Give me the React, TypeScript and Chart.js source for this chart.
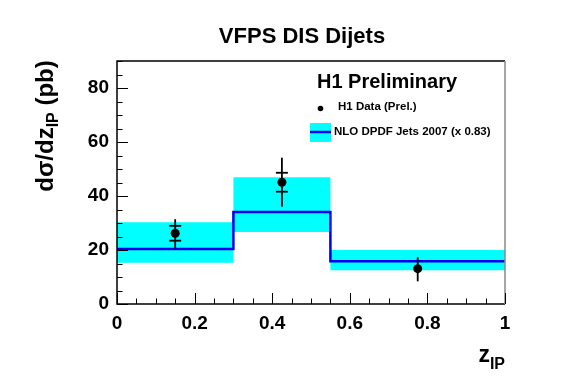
import React, { useEffect, useRef } from "react";
import { Chart, registerables } from "chart.js";
Chart.register(...registerables);

// ---- data ----
const binEdges = [0, 0.3, 0.55, 1];
const nloCentral = [20.4, 34.1, 15.8];
const nloBandHigh = [30.3, 46.9, 20.0];
const nloBandLow = [15.3, 26.7, 12.5];
const dataX = [0.15, 0.425, 0.775];
const dataY = [26.2, 45.1, 13.1];
const statErr = [2.75, 3.5, 0];
const totErrUp = [5.2, 9.1, 4.2];
const totErrDown = [5.6, 9.1, 4.7];
const xTicks = [0, 0.2, 0.4, 0.6, 0.8, 1];
const yTicks = [0, 20, 40, 60, 80];
const xMin = 0, xMax = 1, yMin = 0, yMax = 90;
const xMinorStep = 0.05, yMinorStep = 5;

const title = "VFPS DIS Dijets";
const legendHeader = "H1 Preliminary";
const legendData = "H1 Data (Prel.)";
const legendNlo = "NLO DPDF Jets 2007 (x 0.83)";

const FONT = '"Liberation Sans", Arial, Helvetica, sans-serif';

const stepPoints = (vals: number[]) =>
  binEdges.map((x, i) => ({ x, y: vals[Math.min(i, vals.length - 1)] }));

const fmtX = (v: number) => (v === 0 ? "0" : v === 1 ? "1" : v.toFixed(1));

const decorPlugin = {
  id: "decor",
  afterDatasetsDraw(chart: any) {
    const ctx = chart.ctx;
    const xs = chart.scales.x, ys = chart.scales.y;
    ctx.save();
    ctx.strokeStyle = "#000";
    ctx.lineWidth = 1.8;
    for (let i = 0; i < dataX.length; i++) {
      const px = xs.getPixelForValue(dataX[i]);
      const pTop = ys.getPixelForValue(dataY[i] + totErrUp[i]);
      const pBot = ys.getPixelForValue(dataY[i] - totErrDown[i]);
      ctx.beginPath();
      ctx.moveTo(px, pTop);
      ctx.lineTo(px, pBot);
      ctx.stroke();
      if (statErr[i] > 0) {
        for (const s of [1, -1]) {
          const py = ys.getPixelForValue(dataY[i] + s * statErr[i]);
          ctx.beginPath();
          ctx.moveTo(px - 6, py);
          ctx.lineTo(px + 6, py);
          ctx.stroke();
        }
      }
    }
    ctx.restore();
  },
  afterDraw(chart: any) {
    const ctx = chart.ctx;
    const ca = chart.chartArea;
    const xs = chart.scales.x, ys = chart.scales.y;
    ctx.save();
    // frame
    ctx.lineWidth = 1.5;
    ctx.strokeStyle = "#000";
    ctx.beginPath();
    ctx.moveTo(ca.right, ca.top);
    ctx.lineTo(ca.left, ca.top);
    ctx.lineTo(ca.left, ca.bottom);
    ctx.lineTo(ca.right, ca.bottom);
    ctx.stroke();
    ctx.strokeStyle = "#888";
    ctx.beginPath();
    ctx.moveTo(ca.right, ca.top);
    ctx.lineTo(ca.right, ca.bottom);
    ctx.stroke();
    // ticks
    ctx.strokeStyle = "#000";
    ctx.lineWidth = 1;
    const nY = Math.round((yMax - yMin) / yMinorStep);
    for (let k = 0; k <= nY; k++) {
      const v = yMin + k * yMinorStep;
      const py = Math.round(ys.getPixelForValue(v)) + 0.5;
      const major = yTicks.includes(v);
      ctx.beginPath();
      ctx.moveTo(ca.left, py);
      ctx.lineTo(ca.left + (major ? 11 : 5.5), py);
      ctx.stroke();
    }
    const nX = Math.round((xMax - xMin) / xMinorStep);
    for (let k = 0; k <= nX; k++) {
      const v = +(xMin + k * xMinorStep).toFixed(4);
      const px = Math.round(xs.getPixelForValue(v)) + 0.5;
      const major = xTicks.some((t) => Math.abs(t - v) < 1e-6);
      ctx.beginPath();
      ctx.moveTo(px, ca.bottom);
      ctx.lineTo(px, ca.bottom - (major ? 11 : 5.5));
      ctx.stroke();
    }
    ctx.fillStyle = "#000";
    // title
    ctx.font = `bold 22px ${FONT}`;
    ctx.textAlign = "center";
    ctx.textBaseline = "alphabetic";
    ctx.fillText(title, 302, 43);
    // y title
    ctx.save();
    ctx.translate(53, 126);
    ctx.rotate(-Math.PI / 2);
    ctx.textAlign = "left";
    const big = `bold 24px ${FONT}`, small = `bold 16px ${FONT}`;
    ctx.font = big;
    const w1 = ctx.measureText("d\u03c3/dz").width;
    const w3 = ctx.measureText(" (pb)").width;
    ctx.font = small;
    const w2 = ctx.measureText("IP").width;
    let sx = -(w1 + w2 + w3) / 2;
    ctx.font = big;
    ctx.fillText("d\u03c3/dz", sx, 0);
    sx += w1;
    ctx.font = small;
    ctx.fillText("IP", sx, 5);
    sx += w2;
    ctx.font = big;
    ctx.fillText(" (pb)", sx, 0);
    ctx.restore();
    // x title
    ctx.textAlign = "left";
    ctx.font = small;
    const wIP = ctx.measureText("IP").width;
    ctx.font = `bold 23px ${FONT}`;
    const wz = ctx.measureText("z").width;
    const xEnd = ca.right;
    ctx.fillText("z", xEnd - wIP - wz, 362);
    ctx.font = small;
    ctx.fillText("IP", xEnd - wIP, 369);
    // legend
    ctx.font = `bold 20px ${FONT}`;
    ctx.fillText(legendHeader, 317, 88);
    ctx.beginPath();
    ctx.arc(320.5, 108.5, 2.8, 0, Math.PI * 2);
    ctx.fill();
    ctx.font = `bold 11.5px ${FONT}`;
    ctx.fillText(legendData, 338, 110);
    ctx.fillStyle = "#00ffff";
    ctx.fillRect(310, 123, 21, 19);
    ctx.strokeStyle = "#0000ee";
    ctx.lineWidth = 2.5;
    ctx.beginPath();
    ctx.moveTo(310, 132);
    ctx.lineTo(331, 132);
    ctx.stroke();
    ctx.fillStyle = "#000";
    ctx.fillText(legendNlo, 334, 135);
    ctx.restore();
  },
};

export default function App() {
  const ref = useRef<HTMLCanvasElement | null>(null);
  useEffect(() => {
    if (!ref.current) return;
    const chart = new Chart(ref.current, {
      type: "line",
      data: {
        datasets: [
          {
            label: "data",
            data: dataX.map((x, i) => ({ x, y: dataY[i] })),
            showLine: false,
            pointRadius: 4.5,
            pointBackgroundColor: "#000",
            pointBorderWidth: 0,
            borderColor: "#000",
            order: 0,
          },
          {
            label: "nlo",
            data: stepPoints(nloCentral),
            stepped: "before",
            borderWidth: 2.5,
            borderColor: "#0000ee",
            pointRadius: 0,
            fill: false,
            order: 1,
          },
          {
            label: "bandHigh",
            data: stepPoints(nloBandHigh),
            stepped: "before",
            borderWidth: 0,
            borderColor: "rgba(0,0,0,0)",
            pointRadius: 0,
            fill: "+1",
            backgroundColor: "#00ffff",
            order: 2,
          },
          {
            label: "bandLow",
            data: stepPoints(nloBandLow),
            stepped: "before",
            borderWidth: 0,
            borderColor: "rgba(0,0,0,0)",
            pointRadius: 0,
            fill: false,
            order: 3,
          },
        ] as any,
      },
      options: {
        responsive: false,
        animation: false,
        layout: { padding: { left: 0, top: 61, right: 62, bottom: 0 } },
        plugins: { legend: { display: false }, tooltip: { enabled: false }, title: { display: false } },
        scales: {
          x: {
            type: "linear",
            min: xMin,
            max: xMax,
            grid: { display: false, drawTicks: false },
            border: { display: false },
            afterBuildTicks: (s: any) => {
              s.ticks = xTicks.map((v) => ({ value: v }));
            },
            afterFit: (s: any) => {
              s.height = 80;
            },
            ticks: {
              color: "#000",
              padding: 8,
              maxRotation: 0,
              font: { family: FONT, weight: "bold", size: 19 },
              callback: (v: any) => fmtX(Number(v)),
            },
          },
          y: {
            type: "linear",
            min: yMin,
            max: yMax,
            grid: { display: false, drawTicks: false },
            border: { display: false },
            afterBuildTicks: (s: any) => {
              s.ticks = yTicks.map((v) => ({ value: v }));
            },
            afterFit: (s: any) => {
              s.width = 117;
            },
            ticks: {
              color: "#000",
              padding: 8,
              font: { family: FONT, weight: "bold", size: 19 },
              callback: (v: any) => String(v),
            },
          },
        },
      } as any,
      plugins: [decorPlugin],
    });
    return () => chart.destroy();
  }, []);
  return (
    <div style={{ position: "fixed", left: 0, top: 0, width: 567, height: 384, background: "#fff" }}>
      <canvas ref={ref} width={567} height={384} style={{ width: 567, height: 384 }} />
    </div>
  );
}
